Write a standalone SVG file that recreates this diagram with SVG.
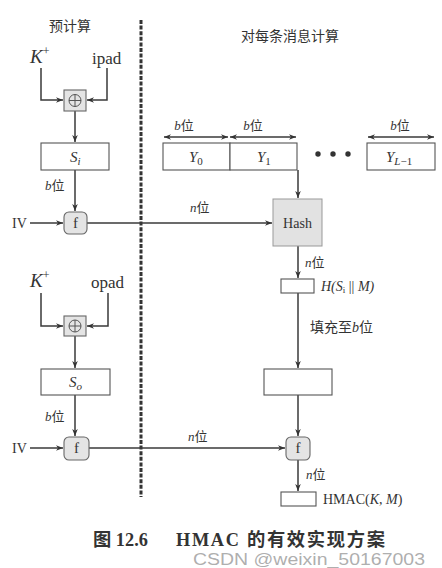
<svg xmlns="http://www.w3.org/2000/svg" width="442" height="568" viewBox="0 0 442 568">
<style>
  .t { font-family: "Liberation Serif", "Noto Sans CJK SC", serif; fill: #333; }
  .it { font-style: italic; }
  .ln { stroke: #3a3a3a; stroke-width: 1.5; fill: none; }
  .bx { stroke: #555; stroke-width: 1.1; fill: #fff; }
  .gb { stroke: #666; stroke-width: 1.1; fill: #e4e4e4; }
</style>
<defs>
  <marker id="ah" viewBox="0 0 10 10" refX="10" refY="5" markerWidth="7" markerHeight="7" orient="auto-start-reverse" markerUnits="userSpaceOnUse">
    <path d="M0,1 L10,5 L0,9 L3,5 Z" fill="#333"/>
  </marker>
</defs>
<rect width="442" height="568" fill="#fff"/>

<line x1="141" y1="20" x2="141" y2="497" stroke="#333" stroke-width="3" stroke-dasharray="4,1.6"/>

<text class="t" x="70" y="31" font-size="14" text-anchor="middle">预计算</text>
<text class="t" x="290" y="41" font-size="14" text-anchor="middle">对每条消息计算</text>

<g id="connectors">
  <polyline class="ln" points="41,68 41,100 63,100" marker-end="url(#ah)"/>
  <polyline class="ln" points="107,68 107,100 87,100" marker-end="url(#ah)"/>
  <line class="ln" x1="75" y1="111" x2="75" y2="142" marker-end="url(#ah)"/>
  <line class="ln" x1="75" y1="170" x2="75" y2="211" marker-end="url(#ah)"/>
  <line class="ln" x1="30" y1="223" x2="63" y2="223" marker-end="url(#ah)"/>
  <line class="ln" x1="87" y1="223" x2="272" y2="223" marker-end="url(#ah)"/>
  <line class="ln" x1="298" y1="170" x2="298" y2="198" marker-end="url(#ah)"/>
  <line class="ln" x1="298" y1="246" x2="298" y2="278" marker-end="url(#ah)"/>
  <line class="ln" x1="298" y1="293" x2="298" y2="368" marker-end="url(#ah)"/>
  <polyline class="ln" points="41,293 41,326 63,326" marker-end="url(#ah)"/>
  <polyline class="ln" points="108,293 108,326 87,326" marker-end="url(#ah)"/>
  <line class="ln" x1="75" y1="336" x2="75" y2="368" marker-end="url(#ah)"/>
  <line class="ln" x1="75" y1="395" x2="75" y2="436" marker-end="url(#ah)"/>
  <line class="ln" x1="30" y1="448" x2="63" y2="448" marker-end="url(#ah)"/>
  <line class="ln" x1="89" y1="448" x2="285" y2="448" marker-end="url(#ah)"/>
  <line class="ln" x1="298" y1="395" x2="298" y2="436" marker-end="url(#ah)"/>
  <line class="ln" x1="298" y1="460" x2="298" y2="491" marker-end="url(#ah)"/>
  <line class="ln" x1="164" y1="137" x2="228" y2="137" marker-start="url(#ah)" marker-end="url(#ah)" stroke-width="1.1"/>
  <line class="ln" x1="230" y1="137" x2="296" y2="137" marker-start="url(#ah)" marker-end="url(#ah)" stroke-width="1.1"/>
  <line class="ln" x1="368" y1="137" x2="434" y2="137" marker-start="url(#ah)" marker-end="url(#ah)" stroke-width="1.1"/>
</g>

<g id="kplus1"><text class="t it" x="30" y="63" font-size="19">K<tspan font-size="12" dy="-8" font-style="normal">+</tspan></text></g>
<g id="ipad"><text class="t" x="92" y="64" font-size="17">ipad</text></g>
<g id="xor1">
  <rect class="gb" x="64" y="90" width="22" height="21"/>
  <circle cx="75" cy="100.5" r="6" fill="none" stroke="#555" stroke-width="1"/>
  <path d="M69,100.5 H81 M75,94.5 V106.5" stroke="#555" stroke-width="1"/>
</g>
<g id="si">
  <rect class="bx" x="41" y="143" width="68" height="27"/>
  <text class="t it" x="70" y="162" font-size="15">S<tspan font-size="11" dy="3">i</tspan></text>
</g>
<text class="t" x="45" y="190" font-size="13"><tspan font-style="italic">b</tspan>位</text>
<text class="t" x="12" y="228" font-size="14">IV</text>
<g id="f1">
  <rect class="gb" x="64" y="212" width="23" height="22" rx="5"/>
  <text class="t" x="75.5" y="228" font-size="15" text-anchor="middle">f</text>
</g>
<text class="t" x="190" y="212" font-size="13"><tspan font-style="italic">n</tspan>位</text>

<g id="y0"><rect class="bx" x="163" y="143" width="67" height="27"/>
  <text class="t it" x="189" y="162" font-size="15">Y<tspan font-size="11" dy="3" font-style="normal">0</tspan></text></g>
<g id="y1"><rect class="bx" x="230" y="143" width="67" height="27"/>
  <text class="t it" x="257" y="162" font-size="15">Y<tspan font-size="11" dy="3" font-style="normal">1</tspan></text></g>
<g id="dots">
  <circle cx="318" cy="154" r="2.7" fill="#333"/>
  <circle cx="333" cy="154" r="2.7" fill="#333"/>
  <circle cx="348" cy="154" r="2.7" fill="#333"/>
</g>
<g id="yl"><rect class="bx" x="367" y="143" width="68" height="27"/>
  <text class="t it" x="386" y="162" font-size="15">Y<tspan font-size="11" dy="3">L</tspan><tspan font-size="11" font-style="normal">−1</tspan></text></g>
<text class="t" x="184" y="130" font-size="13" text-anchor="middle"><tspan font-style="italic">b</tspan>位</text>
<text class="t" x="253" y="130" font-size="13" text-anchor="middle"><tspan font-style="italic">b</tspan>位</text>
<text class="t" x="400" y="130" font-size="13" text-anchor="middle"><tspan font-style="italic">b</tspan>位</text>

<g id="hash">
  <rect x="273" y="199" width="49" height="47" fill="#e2e2e2" stroke="#999" stroke-width="1"/>
  <text class="t" x="297.5" y="228" font-size="14" text-anchor="middle">Hash</text>
</g>
<text class="t" x="305" y="267" font-size="13"><tspan font-style="italic">n</tspan>位</text>
<g id="hsm">
  <rect class="bx" x="281" y="279" width="33" height="14"/>
  <text class="t it" x="321" y="291" font-size="14">H(S<tspan font-size="9" dy="2" font-style="normal">i</tspan><tspan dy="-2" font-style="normal"> || </tspan>M)</text>
</g>
<text class="t" x="310" y="332" font-size="14">填充至<tspan font-style="italic">b</tspan>位</text>

<g id="kplus2"><text class="t it" x="30" y="287" font-size="19">K<tspan font-size="12" dy="-8" font-style="normal">+</tspan></text></g>
<g id="opad"><text class="t" x="91" y="288" font-size="17">opad</text></g>
<g id="xor2">
  <rect class="gb" x="64" y="316" width="22" height="20"/>
  <circle cx="75" cy="326" r="6" fill="none" stroke="#555" stroke-width="1"/>
  <path d="M69,326 H81 M75,320 V332" stroke="#555" stroke-width="1"/>
</g>
<g id="so">
  <rect class="bx" x="41" y="369" width="69" height="26"/>
  <text class="t it" x="69" y="387" font-size="15">S<tspan font-size="11" dy="3">o</tspan></text>
</g>
<text class="t" x="45" y="421" font-size="13"><tspan font-style="italic">b</tspan>位</text>
<text class="t" x="12" y="453" font-size="14">IV</text>
<g id="f2">
  <rect class="gb" x="64" y="437" width="25" height="23" rx="5"/>
  <text class="t" x="76.5" y="453" font-size="15" text-anchor="middle">f</text>
</g>
<text class="t" x="188" y="441" font-size="13"><tspan font-style="italic">n</tspan>位</text>

<g id="padbox"><rect class="bx" x="264" y="369" width="68" height="26"/></g>
<g id="f3">
  <rect class="gb" x="286" y="437" width="24" height="23" rx="5"/>
  <text class="t" x="298" y="453" font-size="15" text-anchor="middle">f</text>
</g>
<text class="t" x="306" y="479" font-size="13"><tspan font-style="italic">n</tspan>位</text>
<g id="hmac">
  <rect class="bx" x="281" y="492" width="35" height="14"/>
  <text class="t" x="323" y="504" font-size="14">HMAC(<tspan font-style="italic">K</tspan>, <tspan font-style="italic">M</tspan>)</text>
</g>

<text class="t" x="93" y="546" font-size="18.3" font-weight="bold" fill="#222">图 12.6</text>
<text class="t" x="176" y="546" font-size="18.3" font-weight="bold" fill="#222" textLength="209" lengthAdjust="spacing">HMAC 的有效实现方案</text>
<text x="193" y="565" font-size="16" font-family="'Liberation Sans', 'Noto Sans', sans-serif" fill="#999" fill-opacity="0.8" textLength="232" lengthAdjust="spacingAndGlyphs">CSDN @weixin_50167003</text>
</svg>
